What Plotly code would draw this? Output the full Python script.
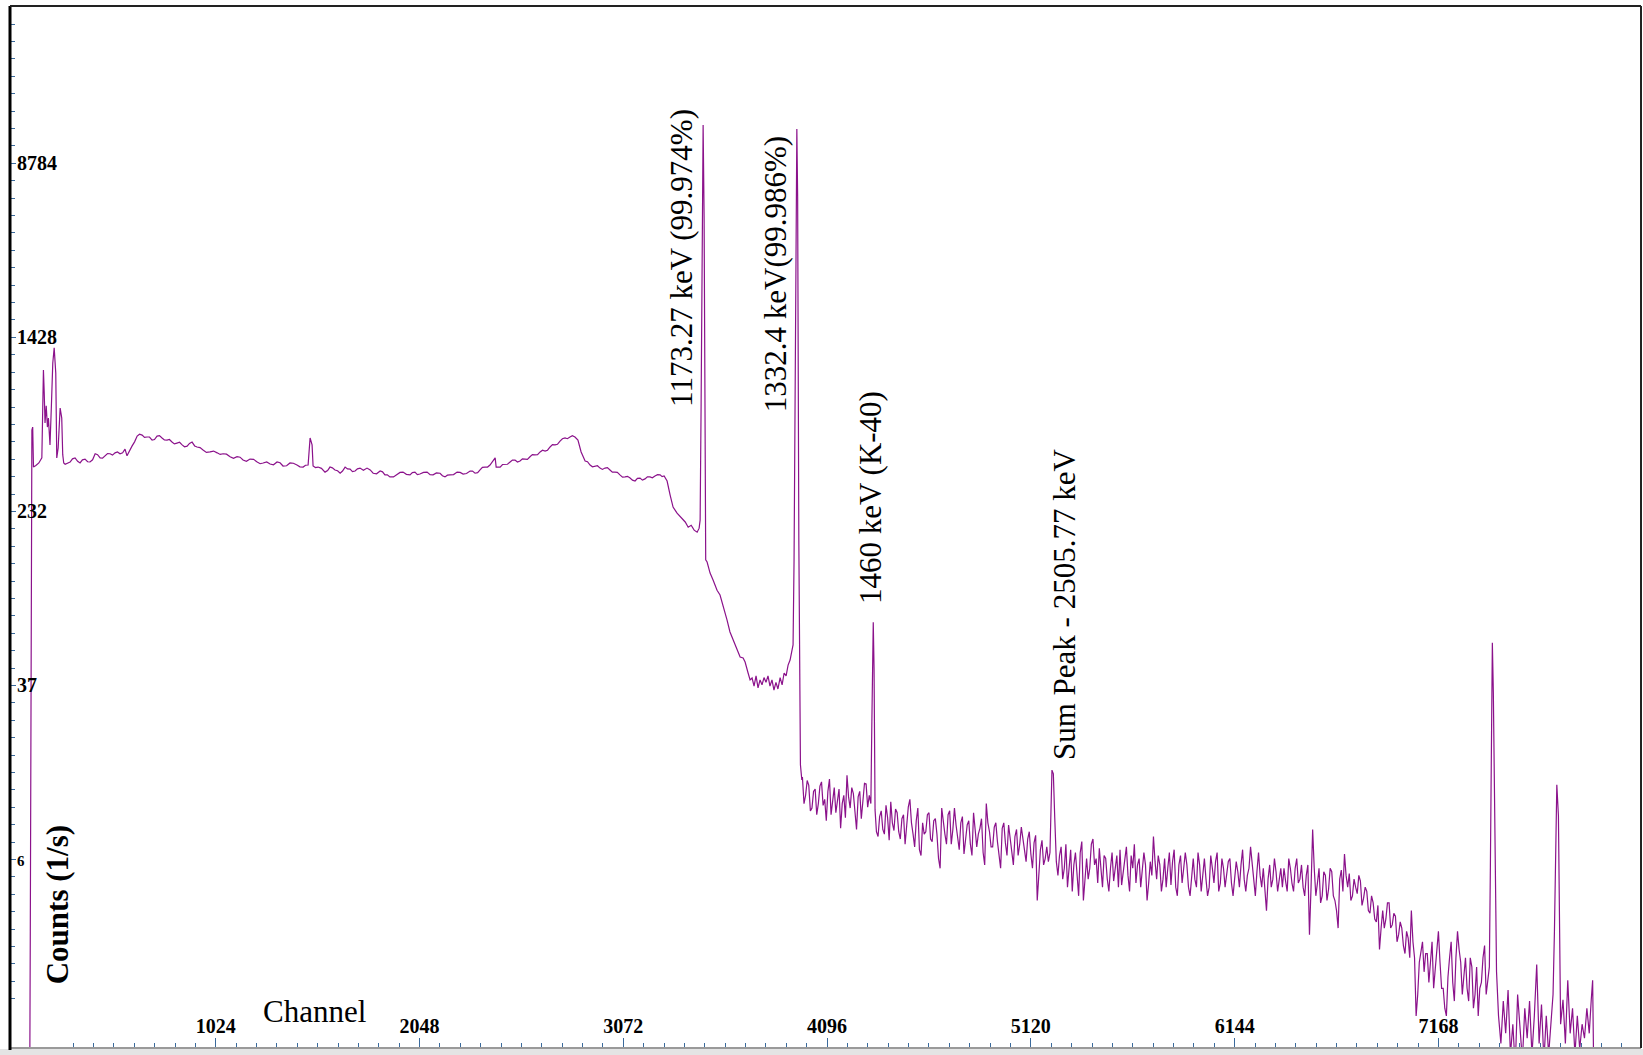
import plotly.graph_objects as go

# ---------------- data (channel, counts per second) ----------------
# lead-in / low-energy peaks
ch_lead = [80, 88, 92, 96, 100, 104, 108, 120, 135, 150, 158, 162, 166, 172, 178, 183, 187, 191,
           198, 205, 212, 216, 220, 225, 232, 242, 246, 250, 255, 260, 267]
cnt_lead = [0.3, 0.3, 2.9, 72, 543, 560, 369, 375, 385, 406, 1016, 800, 584, 700, 560, 616, 520, 465,
            700, 1094, 1280, 1100, 985, 406, 450, 683, 640, 616, 420, 385, 380]

# Compton continuum up to the 1173 keV peak
ch_cont = [292, 317, 342, 367, 392, 418, 443, 468, 493, 518, 543, 568, 578, 603, 629, 654, 679, 704,
           729, 754, 779, 804, 829, 855, 880, 905, 930, 960, 995, 1031, 1061, 1096, 1131, 1161, 1196,
           1232, 1262, 1297, 1332, 1362, 1397, 1432, 1463, 1488, 1498, 1508, 1513, 1538, 1573, 1598,
           1623, 1649, 1674, 1699, 1724, 1749, 1784, 1815, 1850, 1874, 1899, 1935, 1965, 2000, 2025,
           2050, 2086, 2116, 2151, 2176, 2201, 2237, 2267, 2302, 2327, 2352, 2377, 2402, 2423, 2428,
           2433, 2453, 2478, 2503, 2528, 2553, 2578, 2603, 2628, 2654, 2679, 2704, 2729, 2754, 2779,
           2804, 2829, 2844, 2860, 2880, 2905, 2930, 2955, 2980, 3005, 3030, 3055, 3081, 3106, 3131,
           3156, 3181, 3206, 3231, 3257, 3277, 3292, 3307, 3322, 3342, 3362, 3383, 3398, 3413, 3428,
           3443, 3453, 3458]
cnt_cont = [389, 406, 385, 401, 389, 424, 406, 415, 424, 428, 424, 445, 415, 459, 510, 515, 505, 489,
            510, 500, 489, 479, 474, 465, 459, 479, 455, 441, 432, 428, 424, 411, 411, 397, 401,
            389, 385, 381, 389, 373, 385, 377, 369, 377, 500, 465, 373, 369, 350, 369,
            358, 346, 369, 361, 354, 365, 365, 346, 354, 340, 333, 343, 350, 340, 350,
            343, 350, 340, 346, 333, 340, 350, 343, 354, 346, 358, 369, 377, 397, 406,
            369, 369, 381, 389, 397, 393, 401, 411, 419, 432, 436, 455, 465, 484, 500,
            505, 505, 489, 432, 393, 377, 373, 365, 365, 358, 350, 340, 333, 329, 319,
            329, 326, 333, 336, 340, 336, 319, 276, 243, 228, 217, 208, 197, 201, 191,
            187, 195, 212]

# finer jitter of the continuum (in-between channels)
ch_cont_fine = [304, 330, 354, 380, 405, 430, 455, 480, 505, 530, 556, 616, 641, 666, 691, 716, 741,
                766, 791, 816, 842, 867, 892, 918, 945, 977, 1013, 1046, 1078, 1113, 1146, 1178,
                1214, 1247, 1280, 1314, 1347, 1380, 1414, 1447, 1475, 1525, 1555, 1586, 1610, 1636,
                1661, 1686, 1711, 1736, 1766, 1800, 1832, 1862, 1886, 1917, 1950, 1982, 2012, 2037,
                2068, 2101, 2133, 2163, 2188, 2219, 2252, 2284, 2314, 2340, 2364, 2390, 2465, 2490,
                2515, 2540, 2565, 2590, 2615, 2641, 2666, 2691, 2716, 2741, 2766, 2791, 2816, 2892,
                2917, 2942, 2967, 2992, 3017, 3042, 3068, 3093, 3118, 3143, 3168, 3193, 3218, 3244,
                3267]
cnt_cont_fine = [402, 392, 398, 390, 398, 420, 405, 425, 418, 432, 428, 480, 520, 503, 505, 492, 512,
                 490, 492, 470, 478, 456, 472, 460, 452, 430, 436, 421, 422, 404, 409, 392,
                 400, 382, 389, 378, 386, 374, 384, 370, 376, 367, 364, 356, 366, 355,
                 354, 362, 352, 362, 357, 358, 344, 351, 340, 333, 349, 342, 348, 341,
                 349, 341, 347, 337, 339, 341, 349, 345, 354, 348, 368, 369, 379, 380,
                 397, 389, 402, 400, 420, 420, 440, 440, 466, 468, 496, 496, 512, 390,
                 370, 374, 360, 367, 350, 349, 332, 335, 322, 328, 322, 333, 330, 341,
                 334]

# Co-60 photopeaks 1173 / 1332 keV and the valley between them
ch_co60 = [3463, 3468, 3473, 3478, 3483, 3486, 3493, 3508, 3523, 3543, 3558, 3573, 3593, 3608, 3623,
           3643, 3659, 3674, 3684, 3699, 3709, 3719, 3729, 3739, 3749, 3759, 3769, 3779, 3789, 3799,
           3809, 3819, 3829, 3839, 3849, 3860, 3870, 3880, 3890, 3900, 3910, 3920, 3925, 3930, 3935,
           3940, 3944, 3948, 3954, 3962, 3969]
cnt_co60 = [720, 5018, 13110, 5018, 561, 140, 137, 122, 113.5, 102, 97, 87.5, 74.8, 66, 60.7,
            54.7, 50.8, 50.3, 48.2, 43, 40, 40.8, 37.5, 41.7, 36.8, 40, 38, 41, 39, 41.7,
            37.5, 40, 36, 39, 36.4, 41, 38, 43, 41.7, 46.7, 49.2, 54.7, 57.6, 140, 743,
            3445, 12570, 6183, 172, 16.5, 14.1]

# background 1332 -> 1460 keV (8-channel bins from 3972)
ch_bg1 = list(range(3972, 4317, 8))
cnt_bg1 = [14.5, 11.0, 12.0, 14.0, 13.3, 10.2, 10.5, 12.5, 12.8, 9.8,
           11.0, 13.2, 13.8, 10.8, 11.5, 9.2, 12.5, 14.2, 9.8, 11.5,
           13.0, 10.0, 11.2, 12.8, 8.5, 11.0, 12.0, 9.5, 14.8, 11.8,
           10.5, 13.0, 12.2, 9.6, 8.4, 11.8, 12.5, 9.4, 11.0, 13.6,
           13.5, 10.6, 12.0, 11.0]

# K-40 peak
ch_k40 = [4321, 4325, 4328, 4332, 4337, 4344]
cnt_k40 = [26, 60, 73, 45, 10.3, 8.2]

# background after K-40 (8-channel bins from 4352)
ch_bg2 = list(range(4352, 5209, 8))
cnt_bg2 = [7.8, 9.6, 10.2, 8.4, 8.0, 10.8, 9.5, 7.5, 11.2, 9.0, 8.3, 10.4,
           10.0, 8.2, 7.6, 9.4, 9.8, 7.2, 8.5, 10.6, 11.5, 9.0, 8.0, 7.0,
           9.2, 10.5, 6.8, 6.4, 9.0, 8.0, 8.2, 9.8, 10.0, 7.6, 7.4, 9.2,
           9.4, 8.0, 6.2, 5.6, 10.5, 9.0, 8.0, 7.2, 9.8, 10.2, 7.2, 8.4,
           10.5, 8.8, 7.8, 6.8, 9.0, 9.6, 6.5, 7.4, 8.8, 9.2, 7.2, 6.4,
           10.0, 8.4, 7.0, 8.0, 8.5, 9.4, 6.6, 5.8, 11.0, 9.0, 8.2, 7.0,
           7.0, 8.6, 9.0, 7.4, 6.2, 5.6, 8.5, 9.0, 7.3, 6.4, 8.8, 7.8,
           6.6, 5.8, 7.8, 8.4, 6.4, 7.2, 8.6, 7.6, 7.0, 6.0, 7.6, 8.2,
           6.5, 5.6, 7.3, 7.9, 4.0, 5.2, 6.8, 7.5, 5.8, 6.2, 7.0, 6.0]

# labelled "sum peak"
ch_sum = [5216, 5226, 5233, 5240, 5248]
cnt_sum = [6.6, 15.6, 15.0, 9.5, 6.0]

# background after sum peak (8-channel bins from 5256)
ch_bg3 = list(range(5256, 6513, 8))
cnt_bg3 = [5.2, 6.4, 7.0, 5.0, 5.6, 7.2, 4.6, 5.4, 6.8, 4.4, 5.8, 6.6,
           5.0, 4.2, 6.6, 7.4, 4.0, 5.2, 6.2, 5.0, 5.6, 7.2, 7.6, 5.8,
           6.2, 4.8, 6.9, 5.6, 4.6, 6.4, 6.2, 5.0, 4.4, 5.6, 6.6, 4.9,
           5.8, 6.4, 4.6, 6.8, 4.7, 5.4, 6.0, 7.0, 5.2, 4.4, 6.4, 5.6,
           7.2, 4.8, 5.8, 6.2, 4.6, 5.4, 6.6, 5.8, 4.0, 4.8, 6.0, 5.2,
           7.8, 6.0, 5.0, 6.4, 5.8, 4.4, 5.0, 6.2, 4.6, 5.6, 6.6, 4.7,
           6.0, 6.8, 4.6, 4.2, 5.8, 6.4, 4.8, 5.6, 6.6, 5.8, 4.6, 4.2,
           5.4, 6.2, 5.0, 4.6, 6.6, 5.8, 4.4, 5.2, 6.2, 5.0, 4.2, 4.6,
           6.4, 5.6, 4.8, 6.0, 6.6, 4.4, 4.8, 6.2, 5.6, 4.6, 5.2, 6.0,
           6.2, 4.8, 4.2, 5.0, 6.0, 5.4, 4.6, 5.8, 6.8, 5.0, 4.4, 5.2,
           5.6, 7.0, 6.0, 4.8, 4.2, 5.4, 6.6, 5.2, 4.6, 5.6, 4.2, 3.6,
           5.0, 5.8, 4.6, 5.0, 6.2, 5.4, 4.4, 5.0, 5.6, 4.6, 5.6, 4.9,
           4.4, 6.2, 5.6, 4.8, 4.4, 5.6, 6.2, 4.8, 5.0, 5.8, 4.6, 4.2,
           5.2, 5.8]

# high-energy fall-off (8-channel bins from 6520)
ch_tail = list(range(6520, 7425, 8))
cnt_tail = [2.8, 4.6, 8.4, 5.6, 4.2, 4.8, 5.6, 3.9, 4.2, 5.4, 5.2, 4.0,
            4.5, 5.6, 5.4, 4.2, 4.0, 3.6, 3.0, 5.0, 5.5, 4.4, 6.5, 5.2,
            4.6, 5.3, 4.0, 4.2, 5.0, 4.6, 4.3, 5.2, 4.9, 3.8, 4.1, 4.6,
            4.4, 3.6, 3.5, 4.2, 3.9, 3.3, 3.2, 3.8, 2.4, 3.0, 3.6, 3.0,
            3.3, 3.9, 3.9, 3.0, 3.1, 3.5, 3.4, 2.6, 2.8, 3.2, 3.0, 2.5,
            2.3, 2.9, 2.7, 2.2, 3.6, 2.6, 2.2, 1.2, 1.5, 2.1, 2.4, 2.6,
            1.9, 2.3, 2.3, 1.7, 2.1, 2.6, 1.6, 1.9, 2.4, 2.9, 2.1, 1.6,
            1.6, 1.3, 1.2, 1.8, 2.2, 2.6, 1.7, 1.4, 2.2, 2.9, 2.4, 2.1,
            1.5, 1.8, 2.2, 1.6, 1.4, 2.2, 2.0, 1.3, 1.5, 2.0, 1.2, 1.6,
            1.7, 2.2, 2.5, 1.5, 1.8, 2.0]

# peak near 7439
ch_p7439 = [7429, 7434, 7439, 7444, 7452, 7460]
cnt_p7439 = [5.6, 23.7, 59, 35, 7.5, 1.9]

# end of spectrum with the peak near 7763
ch_end = [7470, 7482, 7494, 7506, 7518, 7530, 7542, 7554, 7566, 7578, 7590, 7602, 7614, 7626, 7638,
          7650, 7662, 7674, 7686, 7698, 7710, 7722, 7734, 7744, 7751, 7758, 7763, 7771, 7776, 7782,
          7794, 7806, 7818, 7830, 7842, 7854, 7866, 7878, 7890, 7902, 7914, 7926, 7936, 7943, 7950]
cnt_end = [1.2, 0.9, 1.4, 1.0, 1.57, 0.8, 1.1, 0.7, 1.5, 1.0, 0.75, 1.3, 0.95, 1.4, 0.8,
           1.2, 2.05, 0.9, 1.35, 0.75, 1.2, 0.8, 1.1, 1.5, 2.9, 8.2, 13.4, 9.7, 2.4, 1.1,
           1.42, 0.9, 1.74, 1.0, 1.3, 0.8, 1.2, 0.85, 1.1, 0.95, 1.3, 1.0, 1.42, 1.74, 0.5]

# axis ticks
x_tick_vals = [1024, 2048, 3072, 4096, 5120, 6144, 7168]
x_tick_text = ["1024", "2048", "3072", "4096", "5120", "6144", "7168"]
y_tick_vals = [6.14, 37.76, 232.2, 1428.2, 8784]
y_tick_text = ["<span style='font-size:15px'>6</span>", "37", "232", "1428", "8784"]

# peak labels: (text, channel, log10 of y centre)
peak_labels = [
    ("1173.27 keV (99.974%)", 3367, 3.515),
    ("1332.4 keV(99.986%)", 3835, 3.442),
    ("1460 keV (K-40)", 4317, 2.427),
    ("Sum Peak - 2505.77 keV", 5292, 1.942),
]

# ---------------- assemble ----------------
segments = [(ch_lead, cnt_lead), (ch_cont, cnt_cont), (ch_cont_fine, cnt_cont_fine),
            (ch_co60, cnt_co60), (ch_bg1, cnt_bg1), (ch_k40, cnt_k40), (ch_bg2, cnt_bg2),
            (ch_sum, cnt_sum), (ch_bg3, cnt_bg3), (ch_tail, cnt_tail), (ch_p7439, cnt_p7439),
            (ch_end, cnt_end)]
pairs = []
for c, v in segments:
    assert len(c) == len(v), (len(c), len(v), c[0])
    pairs += list(zip(c, v))
pairs.sort(key=lambda p: p[0])
channels = [p[0] for p in pairs]
counts = [p[1] for p in pairs]

SERIF = "Liberation Serif"
TICKC = "#3a6a9c"

fig = go.Figure()
fig.add_trace(go.Scatter(x=channels, y=counts, mode="lines",
                         line=dict(color="#8b128b", width=1.2),
                         showlegend=False, hoverinfo="x+y"))

# minor log ticks: ten per major step
ratio = (y_tick_vals[-1] / y_tick_vals[0]) ** (1 / (len(y_tick_vals) - 1))
y_minor = [y_tick_vals[0] * ratio ** (k / 10) for k in range(-11, 50)]

fig.update_layout(
    width=1643, height=1055, autosize=False,
    margin=dict(l=10, r=2, t=7, b=7),
    paper_bgcolor="white", plot_bgcolor="white",
    font=dict(family=SERIF, color="black"),
    xaxis=dict(range=[-10, 8186], showgrid=False, zeroline=False, showline=False,
               tickmode="array", tickvals=x_tick_vals, ticktext=x_tick_text,
               ticks="inside", ticklen=10, tickwidth=1, tickcolor=TICKC,
               ticklabelposition="inside", ticklabelstandoff=2,
               tickfont=dict(family=SERIF, size=20, color="black", weight="bold"),
               minor=dict(ticks="inside", ticklen=5, tickwidth=1, tickcolor=TICKC,
                          tick0=0, dtick=102.4, showgrid=False)),
    yaxis=dict(type="log", range=[-0.0665, 4.6525], showgrid=False, zeroline=False, showline=False,
               tickmode="array", tickvals=y_tick_vals, ticktext=y_tick_text,
               ticks="inside", ticklen=6, tickwidth=1, tickcolor=TICKC,
               ticklabelposition="inside", ticklabelstandoff=2,
               tickfont=dict(family=SERIF, size=20, color="black", weight="bold"),
               minor=dict(ticks="inside", ticklen=5, tickwidth=1, tickcolor=TICKC,
                          tickmode="array", tickvals=y_minor, showgrid=False)),
)

annotations = []
for text, cx, ly in peak_labels:
    annotations.append(dict(text=text, x=cx, y=ly, xref="x", yref="y", showarrow=False,
                            textangle=-90, xanchor="center", yanchor="middle",
                            font=dict(family=SERIF, size=31, color="black")))
annotations.append(dict(text="<b>Counts (1/s)</b>", x=0.0288, y=0.138, xref="paper", yref="paper",
                        showarrow=False, textangle=-90, xanchor="center", yanchor="middle",
                        font=dict(family=SERIF, size=31, color="black")))
annotations.append(dict(text="Channel", x=0.187, y=0.035, xref="paper", yref="paper",
                        showarrow=False, xanchor="center", yanchor="middle",
                        font=dict(family=SERIF, size=31, color="black")))
fig.update_layout(annotations=annotations)

# frame and the scroll bar strip at the bottom
shapes = [
    dict(type="rect", xref="paper", yref="paper", x0=-0.01, x1=1.01, y0=-7 / 1041, y1=-1 / 1041,
         fillcolor="#e4e4e4", line=dict(width=0), layer="above"),
    dict(type="line", xref="paper", yref="paper", x0=0, x1=1, y0=0, y1=0,
         line=dict(color="#9a9a9a", width=2), layer="above"),
    dict(type="line", xref="paper", yref="paper", x0=0, x1=0, y0=-0.002, y1=1.001,
         line=dict(color="black", width=3), layer="above"),
    dict(type="line", xref="paper", yref="paper", x0=1, x1=1, y0=0, y1=1.001,
         line=dict(color="#222222", width=2), layer="above"),
    dict(type="line", xref="paper", yref="paper", x0=0, x1=1, y0=1.001, y1=1.001,
         line=dict(color="#222222", width=2), layer="above"),
]
fig.update_layout(shapes=shapes)

fig.write_html("out.html")
